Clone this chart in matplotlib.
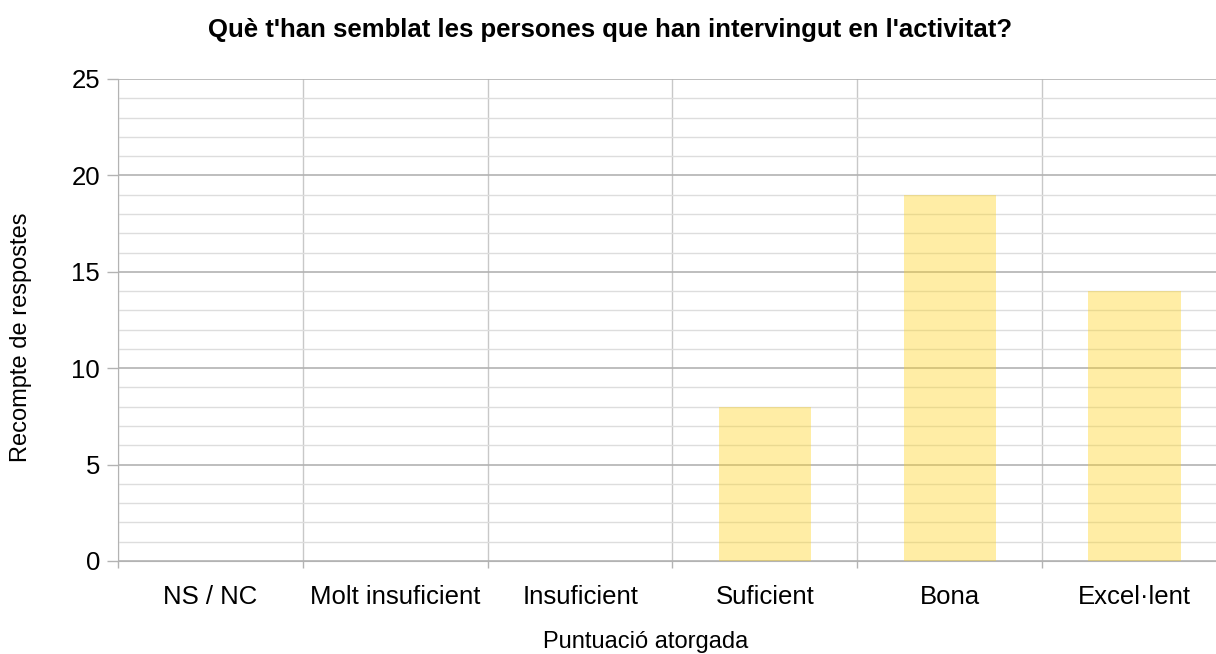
import matplotlib.pyplot as plt
import numpy as np
from matplotlib.ticker import MultipleLocator, FixedLocator

plt.rcParams["font.family"] = ["Liberation Sans", "DejaVu Sans"]

categories = ["NS / NC", "Molt insuficient", "Insuficient", "Suficient", "Bona", "Excel·lent"]
counts = [0, 0, 0, 8, 19, 14]

title = "Què t'han semblat les persones que han intervingut en l'activitat?"
xlabel = "Puntuació atorgada"
ylabel = "Recompte de respostes"

fig = plt.figure(figsize=(12.16, 6.54), dpi=100)
# plot area runs slightly past the right edge, as in the reference
ax = fig.add_axes([118 / 1216, 1 - 561 / 654, 1109 / 1216, (561 - 79) / 654])

x = np.arange(len(categories))
ax.bar(x, counts, width=0.5, color="#ffd320", alpha=0.4, zorder=3)

ax.set_xlim(-0.5, len(categories) - 0.5)
ax.set_ylim(0, 25)

ax.yaxis.set_major_locator(MultipleLocator(5))
ax.yaxis.set_minor_locator(MultipleLocator(1))
ax.set_xticks(x)
ax.set_xticklabels(categories)
ax.xaxis.set_minor_locator(FixedLocator(np.arange(len(categories) + 1) - 0.5))

ax.grid(axis="y", which="major", color="#b3b3b3", linewidth=1.2, zorder=1)
ax.grid(axis="y", which="minor", color="#dddddd", linewidth=1.0, zorder=1)
ax.grid(axis="x", which="minor", color="#c8c8c8", linewidth=1.0, zorder=1)

ax.tick_params(axis="x", which="major", length=0, pad=17, labelsize=18.5)
ax.tick_params(axis="x", which="minor", length=5, color="#b3b3b3", width=1)
ax.tick_params(axis="y", which="major", length=8, color="#b3b3b3", width=1, pad=5, labelsize=18.5)
ax.tick_params(axis="y", which="minor", length=0)

for side in ["top", "right"]:
    ax.spines[side].set_visible(False)
ax.spines["left"].set_color("#b3b3b3")
ax.spines["bottom"].set_color("#b3b3b3")

ax.set_xlabel(xlabel, fontsize=17)
ax.xaxis.set_label_coords(0.476, -0.145)
ax.set_ylabel(ylabel, fontsize=17)
ax.yaxis.set_label_coords(-0.0775, 0.465)
fig.text(610 / 1216, 1 - 30 / 654, title, fontsize=18.5, fontweight="bold", ha="center", va="center")

fig.savefig("out.png", dpi=100)
